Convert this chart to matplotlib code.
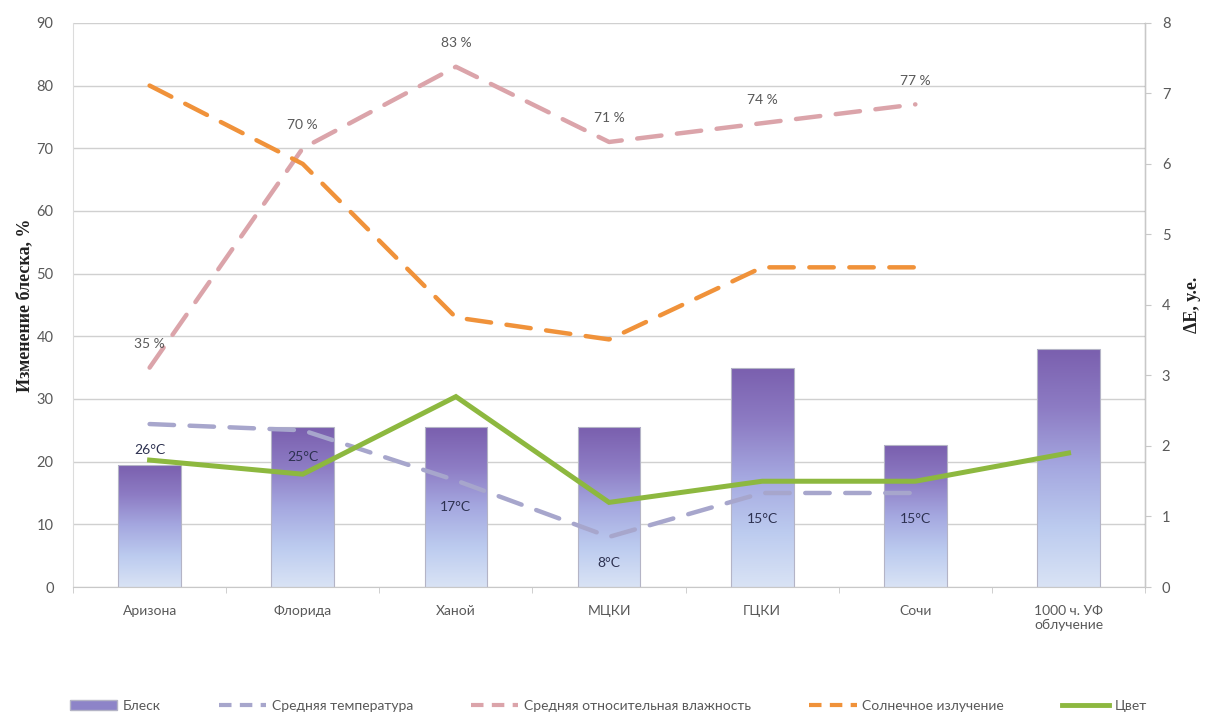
import numpy as np
import matplotlib.pyplot as plt
from matplotlib.patches import Patch
from matplotlib.lines import Line2D
from matplotlib.colors import LinearSegmentedColormap

sites = ["Аризона", "Флорида", "Ханой", "МЦКИ", "ГЦКИ", "Сочи", "1000 ч. УФ\nоблучение"]
gloss = [19.5, 25.5, 25.5, 25.5, 35, 22.6, 38]          # изменение блеска, %
temperature = [26, 25, 17, 8, 15, 15]                    # °C
humidity = [35, 70, 83, 71, 74, 77]                      # %
solar = [80, 67.5, 43, 39.5, 51, 51]                     # солнечное излучение
color_de = [1.8, 1.6, 2.7, 1.2, 1.5, 1.5, 1.9]           # ΔE, у.е.

TICK_FONT = "Lato"
LABEL_FONT = "Liberation Serif"
GREY = "#595959"

C_TEMP = "#a7a6cc"
C_HUM = "#dba4aa"
C_SOLAR = "#f0923a"
C_GREEN = "#8db83f"

bar_cmap = LinearSegmentedColormap.from_list(
    "gloss", ["#d9e3f5", "#bccbef", "#a5a8e0", "#8d7cc4", "#7a5fae"])

fig = plt.figure(figsize=(12.05, 7.15), dpi=100)
ax = fig.add_axes([0.0606, 0.179, 0.8897, 0.789])
ax2 = ax.twinx()

x = np.arange(len(sites))

# bars with vertical gradient fill
bars = ax.bar(x, gloss, width=0.41, color="none", edgecolor="#b4b4c6", linewidth=0.8, zorder=2)
grad = np.linspace(0, 1, 256).reshape(-1, 1)
for b in bars:
    x0, y0 = b.get_x(), b.get_y()
    w, h = b.get_width(), b.get_height()
    im = ax.imshow(grad, cmap=bar_cmap, origin="lower", aspect="auto",
                   extent=[x0, x0 + w, y0, y0 + h], zorder=1.5)
    im.set_clip_path(b)

xt = x[:len(temperature)]
dash_kw = dict(lw=3.2, dashes=(5.5, 3.5), dash_capstyle="round",
               solid_joinstyle="round", zorder=3)
ax.plot(xt, temperature, color=C_TEMP, **dash_kw)
ax.plot(xt, humidity, color=C_HUM, **dash_kw)
ax.plot(xt, solar, color=C_SOLAR, **dash_kw)

ax2.plot(x, color_de, color=C_GREEN, lw=3.6, solid_joinstyle="miter", zorder=4)

# data labels
for xi, v in zip(xt, temperature):
    ax.annotate(f"{v}°C", (xi, v), xytext=(0, -19), textcoords="offset points",
                ha="center", va="center", fontsize=10, color="#2d3150", family=TICK_FONT)
for xi, v in zip(xt, humidity):
    ax.annotate(f"{v} %", (xi, v), xytext=(0, 17), textcoords="offset points",
                ha="center", va="center", fontsize=10, color=GREY, family=TICK_FONT)

ax.set_xlim(-0.5, len(sites) - 0.5)
ax.set_ylim(0, 90)
ax.set_yticks(range(0, 91, 10))
ax2.set_ylim(0, 8)
ax2.set_yticks(range(0, 9))

ax.set_xticks(x)
ax.set_xticklabels(sites, fontsize=10, color=GREY, family=TICK_FONT)
ax.set_xticks(np.arange(-0.5, len(sites), 1), minor=True)
ax.tick_params(axis="x", which="major", length=0, pad=13)
ax.tick_params(axis="x", which="minor", length=4, color="#c8c8c8", direction="out")
ax.tick_params(axis="y", length=0, labelsize=10.5, labelcolor=GREY, pad=14)
ax2.tick_params(axis="y", length=4, color="#c8c8c8", labelsize=10.5, labelcolor=GREY, pad=8)
for lab in ax.get_yticklabels() + ax2.get_yticklabels():
    lab.set_family(TICK_FONT)

ax.grid(axis="y", color="#d0d0d0", lw=1)
ax.set_axisbelow(True)
ax.spines["top"].set_visible(False)
ax2.spines["top"].set_visible(False)
ax.spines["left"].set_color("#dcdcdc")
ax.spines["bottom"].set_color("#c8c8c8")
ax2.spines["left"].set_visible(False)
ax2.spines["bottom"].set_visible(False)
ax2.spines["right"].set_color("#c8c8c8")

ax.set_ylabel("Изменение блеска, %", family=LABEL_FONT, fontweight="bold",
              fontsize=13, color="#222222", labelpad=2)
ax2.set_ylabel("ΔE, у.е.", family=LABEL_FONT, fontweight="bold",
               fontsize=13, color="#222222", labelpad=10)

handles = [
    Patch(facecolor="#8d84c8", edgecolor="#b4b4c6"),
    Line2D([], [], color=C_TEMP, lw=3, dashes=(3, 2)),
    Line2D([], [], color=C_HUM, lw=3, dashes=(3, 2)),
    Line2D([], [], color=C_SOLAR, lw=3, dashes=(3, 2)),
    Line2D([], [], color=C_GREEN, lw=3.5),
]
labels = ["Блеск", "Средняя температура", "Средняя относительная влажность",
          "Солнечное излучение", "Цвет"]
leg = fig.legend(handles, labels, loc="center", bbox_to_anchor=(0.505, 0.013),
                 ncol=5, frameon=False, handlelength=3.4,
                 columnspacing=4.2, handletextpad=0.4,
                 prop={"family": TICK_FONT, "size": 10})
for t in leg.get_texts():
    t.set_color(GREY)

fig.savefig("out.png", dpi=100)
